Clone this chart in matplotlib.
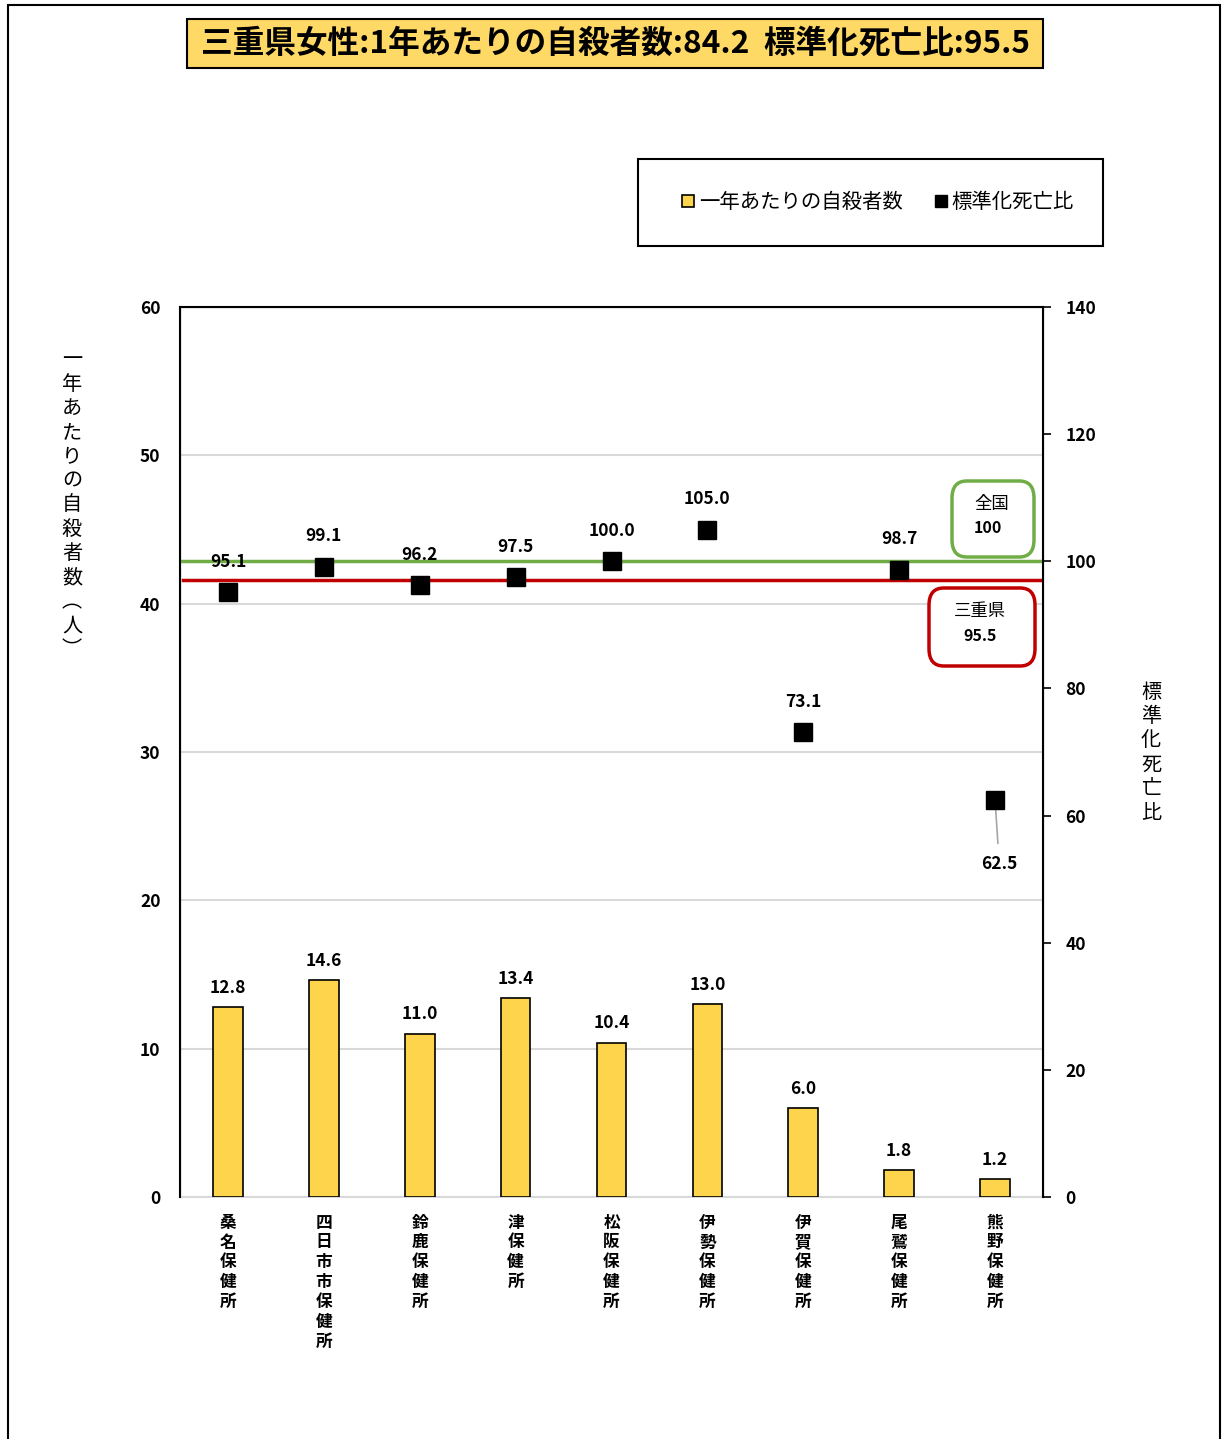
import matplotlib
matplotlib.use("Agg")
import matplotlib.pyplot as plt
import numpy as np
from matplotlib.patches import Rectangle, FancyBboxPatch
from matplotlib.lines import Line2D

plt.rcParams['font.family'] = ['Noto Sans CJK JP', 'DejaVu Sans']

# データ
centers = ["桑名保健所", "四日市市保健所", "鈴鹿保健所", "津保健所", "松阪保健所",
           "伊勢保健所", "伊賀保健所", "尾鷲保健所", "熊野保健所"]
suicides = [12.8, 14.6, 11.0, 13.4, 10.4, 13.0, 6.0, 1.8, 1.2]
smr = [95.1, 99.1, 96.2, 97.5, 100.0, 105.0, 73.1, 98.7, 62.5]
national_smr = 100
pref_smr = 95.5
pref_line_pos = 97.0   # 赤線の位置
title = "三重県女性:1年あたりの自殺者数:84.2  標準化死亡比:95.5"

W, H = 1222, 1439
def fx(px):
    return px / W
def fy(py):
    return 1 - py / H

fig = plt.figure(figsize=(W / 100, H / 100), dpi=100)

# 外枠
fig.patches.append(Rectangle((fx(8), fy(1445)), fx(1220) - fx(8), fy(5) - fy(1445),
                             transform=fig.transFigure, fill=False, ec="black", lw=1.5))

ax = fig.add_axes([fx(180), fy(1197), fx(1043) - fx(180), fy(307) - fy(1197)])
ax2 = ax.twinx()

x = np.arange(len(centers))
ax.bar(x, suicides, width=0.31, color="#FFD44D", edgecolor="black", lw=1.2, zorder=3)
ax.set_xlim(-0.5, len(centers) - 0.5)
ax.set_ylim(0, 60)
ax.set_yticks(range(0, 61, 10))
ax.grid(axis="y", color="#D9D9D9", lw=1.5, zorder=0)
ax.tick_params(axis="y", length=0, pad=14, labelsize=12.5)
for lab in ax.get_yticklabels():
    lab.set_fontweight("bold")
ax.set_xticks(x)
ax.set_xticklabels(["\n".join(c) for c in centers], fontsize=12, fontweight="bold",
                   va="top", linespacing=1.13)
ax.tick_params(axis="x", length=0, pad=12)
ax.spines["bottom"].set_color("#D9D9D9")
ax.spines["bottom"].set_linewidth(1.5)

for xi, v in zip(x, suicides):
    ax.annotate(f"{v:.1f}", (xi, v), xytext=(0, 14), textcoords="offset points",
                ha="center", va="center", fontsize=12.5, fontweight="bold")

ax2.set_ylim(0, 140)
ax2.set_yticks(range(0, 141, 20))
ax2.tick_params(axis="y", direction="out", length=6, width=1.2, pad=10, labelsize=12.5)
for lab in ax2.get_yticklabels():
    lab.set_fontweight("bold")
for sp in ["left", "right", "top"]:
    ax2.spines[sp].set_color("black")
    ax2.spines[sp].set_linewidth(1.5)
ax2.spines["bottom"].set_visible(False)

ax2.axhline(national_smr, color="#70AD47", lw=2.5, zorder=2)
ax2.plot([-0.47, len(centers) - 0.5], [pref_line_pos] * 2, color="#C00000", lw=2.5, zorder=2)
ax2.plot(x, smr, ls="none", marker="s", ms=13, color="black", zorder=4)

for xi, v in zip(x, smr):
    if v < 70:
        ax2.annotate(f"{v:.1f}", (xi, v), xytext=(3, -46), textcoords="offset points",
                     ha="center", va="center", fontsize=12.5, fontweight="bold",
                     arrowprops=dict(arrowstyle="-", color="#A6A6A6", lw=1.2,
                                     shrinkA=6, shrinkB=0))
    else:
        ax2.annotate(f"{v:.1f}", (xi, v), xytext=(0, 22), textcoords="offset points",
                     ha="center", va="center", fontsize=12.5, fontweight="bold")

# 全国・三重県ボックス
fig.patches.append(FancyBboxPatch((fx(952), fy(557)), fx(1034) - fx(952), fy(481) - fy(557),
                                  boxstyle="round,pad=0,rounding_size=0.012",
                                  transform=fig.transFigure, fc="white", ec="#70AD47", lw=2.5))
fig.text(fx(992), fy(504), "全国", ha="center", va="center", fontsize=12.5)
fig.text(fx(988), fy(528), f"{national_smr}", ha="center", va="center", fontsize=11.5,
         fontweight="bold")
fig.patches.append(FancyBboxPatch((fx(929), fy(666)), fx(1035) - fx(929), fy(588) - fy(666),
                                  boxstyle="round,pad=0,rounding_size=0.012",
                                  transform=fig.transFigure, fc="white", ec="#C00000", lw=2.5))
fig.text(fx(980), fy(611), "三重県", ha="center", va="center", fontsize=12.5)
fig.text(fx(980), fy(636), f"{pref_smr}", ha="center", va="center", fontsize=11.5,
         fontweight="bold")

# 軸ラベル(縦書き)
ylab = "一年あたりの自殺者数︵人︶"
fig.text(fx(72), fy(505), "\n".join(ylab), ha="center", va="center", fontsize=14.5,
         linespacing=1.2)
fig.text(fx(1151), fy(753), "\n".join("標準化死亡比"), ha="center", va="center",
         fontsize=14.5, linespacing=1.2)

# タイトル
fig.patches.append(Rectangle((fx(187), fy(68)), fx(1043) - fx(187), fy(19) - fy(68),
                             transform=fig.transFigure, fc="#FFD966", ec="black", lw=1.5))
fig.text(fx(615), fy(44), title, ha="center", va="center", fontsize=22.8, fontweight="bold")

# 凡例
fig.patches.append(Rectangle((fx(638), fy(246)), fx(1103) - fx(638), fy(159) - fy(246),
                             transform=fig.transFigure, fill=False, ec="black", lw=1.5))
handles = [Line2D([], [], ls="none", marker="s", ms=8.5, mfc="#FFD44D", mec="black", mew=1.2),
           Line2D([], [], ls="none", marker="s", ms=8.5, mfc="black", mec="black")]
fig.legend(handles, ["一年あたりの自殺者数", "標準化死亡比"], loc="center",
           bbox_to_anchor=(fx(877), fy(203)), ncol=2, frameon=False, fontsize=14.7,
           handletextpad=0.1, columnspacing=1.5, handlelength=0.8)

fig.savefig("out.png", dpi=100)
